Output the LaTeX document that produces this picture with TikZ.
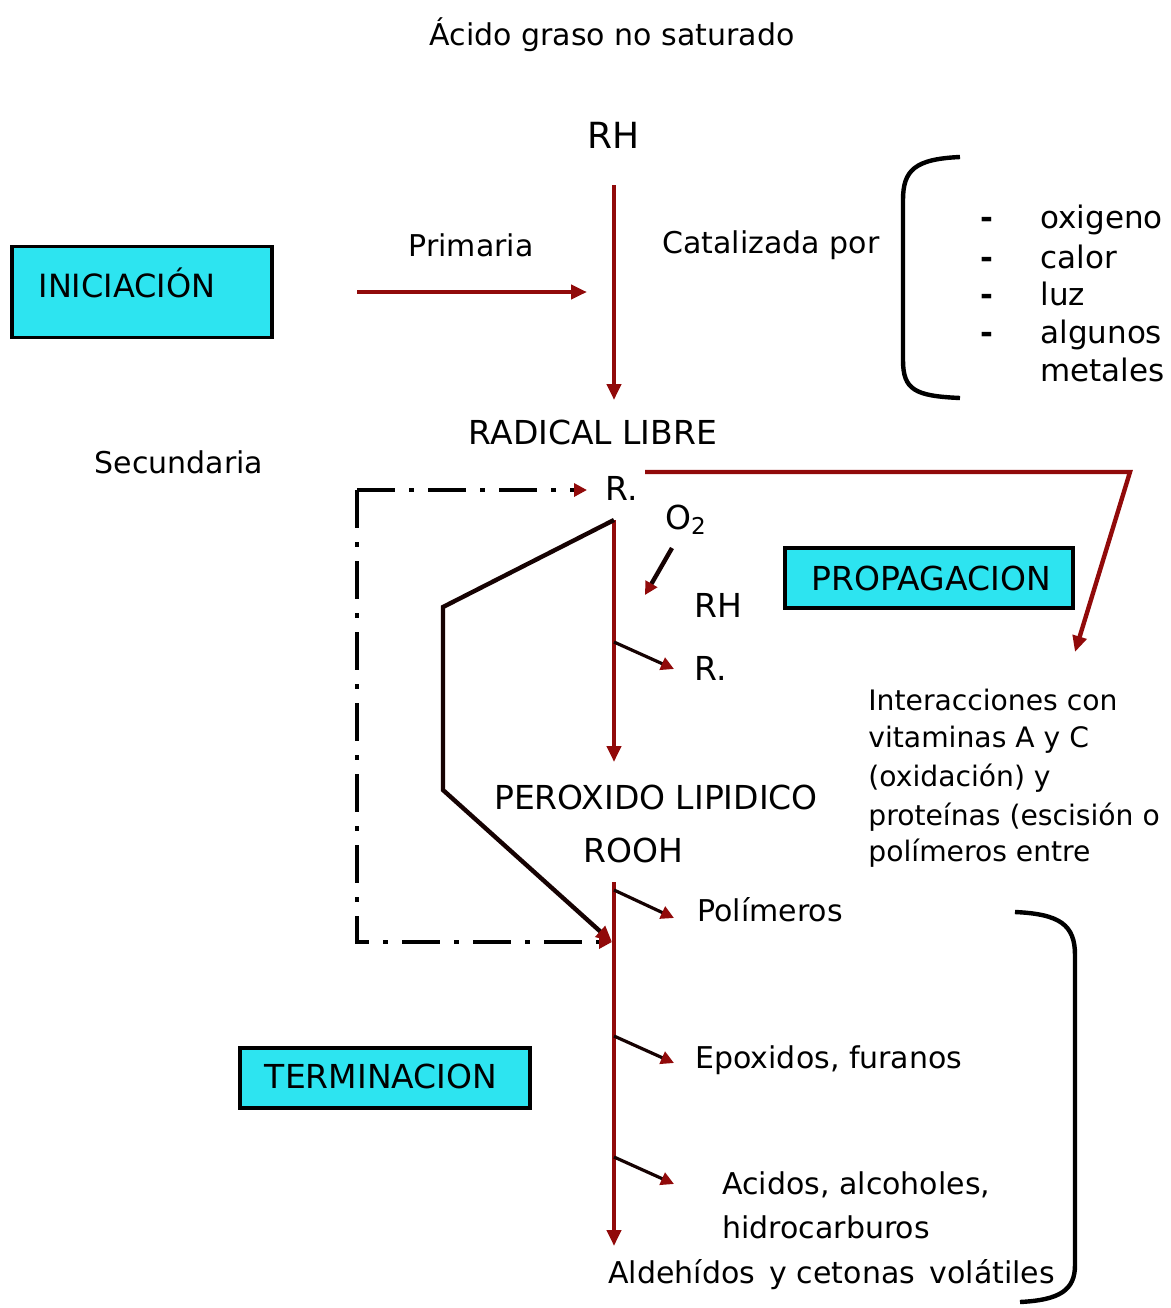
\documentclass[tikz,border=0pt]{standalone}
\usepackage{fontspec}
\setmainfont{DejaVu Sans}
\usetikzlibrary{arrows.meta}
\definecolor{dred}{RGB}{145,10,10}
\definecolor{boxcyan}{RGB}{45,228,240}
\begin{document}
\begin{tikzpicture}[x=0.5pt,y=-0.5pt,
  lbl/.style={inner sep=0pt, font=\fontsize{15}{18}\selectfont},
  lblw/.style={lbl, anchor=west},
  intl/.style={inner sep=0pt, anchor=west, font=\fontsize{14.1}{17}\selectfont},
  caps/.style={inner sep=0pt, font=\fontsize{16.5}{19}\selectfont},
  big/.style={inner sep=0pt, font=\fontsize{18}{22}\selectfont},
  lst/.style={inner sep=0pt, anchor=base west, font=\fontsize{15.5}{18}\selectfont},
  stagebox/.style={draw=black, line width=1.6pt, fill=boxcyan, inner sep=0pt},
  tip/.style={-{Triangle[length=8pt,width=7pt,color=dred]}},
  smalltip/.style={-{Triangle[length=6.5pt,width=6.5pt,color=dred]}},
  redline/.style={draw=dred, line width=2.2pt, tip},
  blackline/.style={draw=black!85!dred, line width=2.2pt, tip},
  branch/.style={draw=black!85!dred, line width=1.6pt, smalltip},
  dashdot/.style={draw=black, line width=2.2pt, dash pattern=on 19pt off 7pt on 2.5pt off 7pt, smalltip},
  bracket/.style={draw=black, line width=2.2pt}
]
\useasboundingbox (0,0) rectangle (1171,1308);

% title
\node[lbl] (title) at (612,35) {Ácido graso no saturado};
\node[big] (rh) at (614,135) {RH};

% initiation
\node[stagebox, minimum width=130pt, minimum height=45.5pt] (inibox) at (142,292) {};
\node[caps, font=\fontsize{16}{19}\selectfont] (initxt) at (127,283) {INICIACIÓN};
\node[lbl] (prim) at (471,245) {Primaria};
\coordinate (pa) at (357,292);
\coordinate (pb) at (587,292);
\draw[redline] (pa) -- (pb);
\node[lbl] (cat) at (771,245) {Catalizada por};

% catalyst bracket and list
\coordinate (lb1) at (960,157);
\coordinate (lb2) at (960,398);
\draw[bracket] (lb1) .. controls (915,159) and (903,170) .. (903,200) -- (903,360) .. controls (903,390) and (915,396) .. (lb2);
\foreach \yy in {228,268,305,343} \node[lst, font=\bfseries\fontsize{15.5}{18}\selectfont] at (980,\yy) {-};
\node[lst] (ox) at (1040,228) {oxigeno};
\node[lst] (cal) at (1040,268) {calor};
\node[lst] (luz) at (1040,305) {luz};
\node[lst] (alg) at (1040,343) {algunos};
\node[lst] (met) at (1040,381) {metales};

% RH -> radical libre
\coordinate (rhb) at (614,185);
\coordinate (rla) at (614,400);
\draw[redline] (rhb) -- (rla);
\node[caps] (rl) at (593,432) {RADICAL LIBRE};
\node[lbl] (sec) at (179,462) {Secundaria};
\node[caps] (r1) at (622,488) {R.};

% propagation
\node[stagebox, minimum width=144pt, minimum height=30pt] (probox) at (929,578) {};
\node[caps] (protxt) at (931,578) {PROPAGACION};
\coordinate (ra) at (645,472);
\coordinate (rb) at (1130,472);
\coordinate (rc) at (1075,652);
\draw[redline] (ra) -- (rb) -- (rc);

\node[intl] (int1) at (868,700) {Interacciones con};
\node[intl] (int2) at (868,740) {vitaminas A y C};
\node[intl] (int3) at (868,778) {(oxidación) y};
\node[intl] (int4) at (868,817) {proteínas (escisión o};
\node[intl] (int5) at (868,853) {polímeros entre};

% main propagation chain
\coordinate (rtop) at (614,520);
\coordinate (peroa) at (614,762);
\draw[redline] (rtop) -- (peroa);
\node[caps] (o2) at (686,520) {O\textsubscript{2}};
\coordinate (o2a) at (672,548);
\coordinate (o2b) at (645,595);
\draw[blackline, smalltip] (o2a) -- (o2b);
\node[caps] (rh2) at (718,605) {RH};
\coordinate (b1a) at (614,642);
\coordinate (b1b) at (674,669);
\draw[branch] (b1a) -- (b1b);
\node[caps] (r2) at (711,668) {R.};
\node[caps] (pero) at (656,797) {PEROXIDO LIPIDICO};
\node[caps] (rooh) at (633,850) {ROOH};

% termination
\coordinate (ta) at (614,882);
\coordinate (tb) at (614,1246);
\draw[redline] (ta) -- (tb);
\coordinate (t1a) at (614,890);
\coordinate (t1b) at (674,918);
\draw[branch] (t1a) -- (t1b);
\node[lblw] (pol) at (697,910) {Polímeros};
\coordinate (t2a) at (614,1036);
\coordinate (t2b) at (674,1063);
\draw[branch] (t2a) -- (t2b);
\node[lblw] (epo) at (695,1060) {Epoxidos, furanos};
\coordinate (t3a) at (614,1157);
\coordinate (t3b) at (674,1184);
\draw[branch] (t3a) -- (t3b);
\node[lblw] (aci) at (722,1185) {Acidos, alcoholes,};
\node[lblw] (hid) at (722,1227) {hidrocarburos};
\node[lblw] (ald) at (608,1275) {Aldehídos\, y cetonas\, volátiles};

\node[stagebox, minimum width=145pt, minimum height=30pt] (terbox) at (385,1078) {};
\node[caps] (tertxt) at (381,1076) {TERMINACION};

% black polyline from R. to termination
\coordinate (pk1) at (443,607);
\coordinate (pk2) at (443,790);
\coordinate (pend) at (612,942);
\draw[blackline] (rtop) -- (pk1) -- (pk2) -- (pend);

% dash-dot loop
\coordinate (dd1) at (357,942);
\coordinate (dd2) at (357,490);
\coordinate (dd3) at (587,490);
\draw[dashdot] (dd2) -- (dd3);
\draw[dashdot] (dd2) -- (dd1) -- (pend);

% right bracket
\coordinate (rb1) at (1015,912);
\coordinate (rb2) at (1020,1302);
\draw[bracket] (rb1) .. controls (1060,914) and (1075,925) .. (1075,955) -- (1075,1265) .. controls (1075,1290) and (1060,1300) .. (rb2);
\end{tikzpicture}
\end{document}
